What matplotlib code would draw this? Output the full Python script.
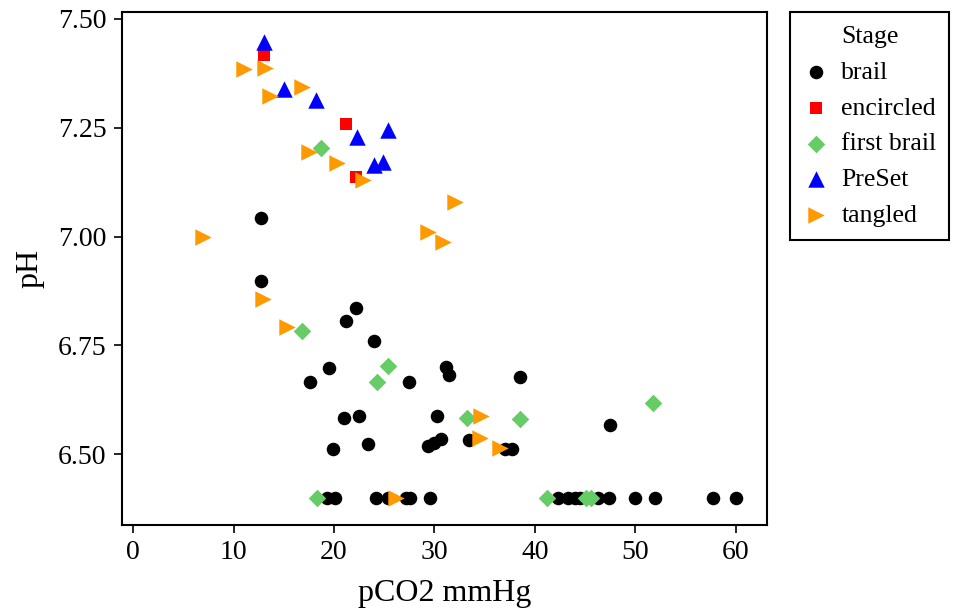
import numpy as np
import matplotlib.pyplot as plt
from matplotlib.lines import Line2D

plt.rcParams['font.family'] = ['Liberation Serif', 'DejaVu Serif']

# brail
brail_x = [12.7, 12.7, 22.2, 21.2, 24.0, 19.5, 17.6, 27.5, 31.1, 31.4, 38.5,
           21.0, 22.5, 30.3, 23.4, 19.9, 29.4, 30.0, 30.7, 33.4, 37.0, 37.7,
           47.5,
           19.3, 20.1, 24.2, 25.4, 27.2, 27.6, 29.6,
           42.3, 43.3, 44.0, 44.5, 46.3, 47.4, 50.0, 52.0, 57.7, 60.0]
brail_y = [7.043, 6.897, 6.836, 6.806, 6.759, 6.698, 6.666, 6.665, 6.699, 6.681, 6.678,
           6.584, 6.588, 6.588, 6.523, 6.511, 6.519, 6.525, 6.535, 6.532, 6.511, 6.511,
           6.567,
           6.40, 6.40, 6.40, 6.40, 6.40, 6.40, 6.40,
           6.40, 6.40, 6.40, 6.40, 6.40, 6.40, 6.40, 6.40, 6.40, 6.40]

# encircled
encircled_x = [13.0, 21.2, 22.2]
encircled_y = [7.417, 7.259, 7.137]

# first brail
first_x = [18.7, 16.8, 25.4, 24.3, 33.2, 38.5, 51.8, 18.3, 41.2, 45.1, 45.6]
first_y = [7.203, 6.783, 6.702, 6.666, 6.583, 6.580, 6.617, 6.40, 6.40, 6.40, 6.40]

# PreSet
preset_x = [13.0, 15.0, 18.2, 22.3, 25.4, 24.0, 24.9]
preset_y = [7.446, 7.338, 7.314, 7.229, 7.245, 7.164, 7.172]

# tangled
tangled_x = [11.0, 13.1, 13.6, 16.8, 17.5, 20.3, 22.9, 32.0, 29.4, 30.9, 7.0,
             12.9, 15.3, 34.6, 34.5, 36.5, 26.2]
tangled_y = [7.384, 7.387, 7.323, 7.344, 7.194, 7.168, 7.130, 7.080, 7.011, 6.987, 6.998,
             6.856, 6.791, 6.588, 6.536, 6.515, 6.40]

fig = plt.figure(figsize=(9.55, 6.13), dpi=100)
ax = fig.add_axes([122/955, 1-525/613, 645/955, 513/613])

ax.scatter(brail_x, brail_y, marker='o', s=95, c='black', linewidths=0, label='brail')
ax.scatter(encircled_x, encircled_y, marker='s', s=80, c='#FF0000', linewidths=0, label='encircled')
ax.scatter(first_x, first_y, marker='D', s=80, c='#66CC66', linewidths=0, label='first brail')
ax.scatter(preset_x, preset_y, marker='^', s=140, c='#0000FF', linewidths=0, label='PreSet')
ax.scatter(tangled_x, tangled_y, marker='>', s=140, c='#FF9900', linewidths=0, label='tangled')

ax.set_xlim(-1.1, 63.1)
ax.set_ylim(6.337, 7.516)
ax.set_xticks(np.arange(0, 61, 10))
ax.set_yticks([6.50, 6.75, 7.00, 7.25, 7.50])
ax.set_yticklabels(['6.50', '6.75', '7.00', '7.25', '7.50'])
ax.tick_params(direction='out', length=6, width=1.2, labelsize=20, colors='black', pad=5)
for sp in ax.spines.values():
    sp.set_linewidth(1.5)

ax.set_xlabel('pCO2 mmHg', fontsize=23, labelpad=10)
ax.set_ylabel('pH', fontsize=23, labelpad=10)

# title row as a blank entry so "Stage" lines up with the labels
handles, labels = ax.get_legend_handles_labels()
blank = Line2D([], [], linestyle='none', marker=None)
leg = ax.legend([blank] + handles, ['Stage'] + labels, loc='upper left',
                bbox_to_anchor=((790-122)/645, 1.0),
                fontsize=18.5, frameon=True, fancybox=False, framealpha=1,
                edgecolor='black', borderaxespad=0, handlelength=1.0,
                handletextpad=0.5, labelspacing=0.5, borderpad=0.5)
leg.get_frame().set_linewidth(1.5)

fig.savefig('out.png', dpi=100)
